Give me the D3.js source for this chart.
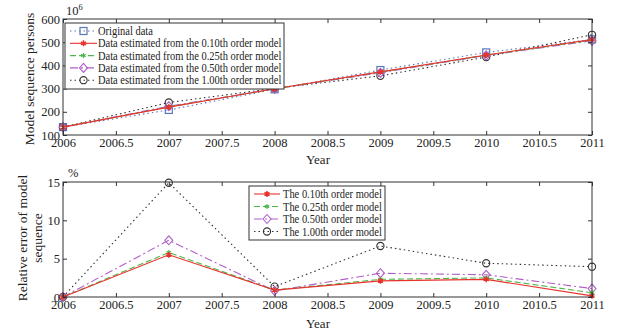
<!DOCTYPE html>
<html>
<head>
<meta charset="utf-8">
<script src="https://cdn.jsdelivr.net/npm/d3@7"></script>
<style>
  body { margin: 0; background: #fff; }
  svg text { font-family: "Liberation Serif", "DejaVu Serif", serif; fill: #222; }
  .tick text { font-size: 12.5px; }
  .tick line { stroke: #333; }
</style>
</head>
<body>
<div id="chart"></div>
<script>
// data
var years = [2006, 2007, 2008, 2009, 2010, 2011];
var original = [134, 208, 297, 380, 456, 512];
var est010 = [134, 220, 299, 372, 445, 511];
var est025 = [134, 221, 299, 371, 444, 509];
var est050 = [134, 224, 299, 368, 443, 506];
var est100 = [134, 240, 301, 355, 436, 532];

var err010 = [0, 5.5, 0.9, 2.1, 2.3, 0.15];
var err025 = [0, 5.8, 0.9, 2.3, 2.5, 0.55];
var err050 = [0, 7.4, 0.8, 3.1, 2.9, 1.1];
var err100 = [0, 14.9, 1.35, 6.65, 4.4, 3.95];

var xTicks = [2006, 2006.5, 2007, 2007.5, 2008, 2008.5, 2009, 2009.5, 2010, 2010.5, 2011];
var yTicksTop = [100, 200, 300, 400, 500, 600];
var yTicksBottom = [0, 5, 10, 15];

var topNames = ["Original data",
  "Data estimated from the 0.10th order model",
  "Data estimated from the 0.25th order model",
  "Data estimated from the 0.50th order model",
  "Data estimated from the 1.00th order model"];
var bottomNames = ["The 0.10th order model", "The 0.25th order model",
  "The 0.50th order model", "The 1.00th order model"];

var svgWidth = 617, svgHeight = 330;
var left = 63, right = 592;

var svg = d3.select("#chart").append("svg")
  .attr("width", svgWidth).attr("height", svgHeight);

var x = d3.scaleLinear().domain([2006, 2011]).range([left, right]);

// series styles
var styles = {
  orig: { color: "#5a78b4", dash: "1.5,3", marker: "square" },
  m010: { color: "#e8322c", dash: null, marker: "star" },
  m025: { color: "#4cb84a", dash: "6,3", marker: "cross" },
  m050: { color: "#b060c8", dash: "8,3,2,3", marker: "diamond" },
  m100: { color: "#333", dash: "1.5,3", marker: "circle" }
};

function drawMarker(g, type, cx, cy, color) {
  if (type === "square") {
    g.append("rect").attr("x", cx - 3.5).attr("y", cy - 3.5)
      .attr("width", 7).attr("height", 7)
      .attr("fill", "none").attr("stroke", color).attr("stroke-width", 1.2);
  } else if (type === "circle") {
    g.append("circle").attr("cx", cx).attr("cy", cy).attr("r", 3.6)
      .attr("fill", "none").attr("stroke", color).attr("stroke-width", 1.1);
  } else if (type === "diamond") {
    g.append("path").attr("d", `M${cx},${cy - 4.5}L${cx + 4},${cy}L${cx},${cy + 4.5}L${cx - 4},${cy}Z`)
      .attr("fill", "none").attr("stroke", color).attr("stroke-width", 1.1);
  } else if (type === "star") {
    g.append("path").attr("d", d3.symbol(d3.symbolAsterisk, 24)())
      .attr("transform", `translate(${cx},${cy})`)
      .attr("fill", "none").attr("stroke", color).attr("stroke-width", 1.5);
  } else if (type === "cross") {
    g.append("path").attr("d", d3.symbol(d3.symbolAsterisk, 18)())
      .attr("transform", `translate(${cx},${cy})`)
      .attr("fill", "none").attr("stroke", color).attr("stroke-width", 1.1);
  }
}

function drawSeries(g, xs, ys, y, st) {
  var line = d3.line().x((d, i) => x(xs[i])).y(d => y(d));
  g.append("path").datum(ys)
    .attr("d", line)
    .attr("fill", "none")
    .attr("stroke", st.color)
    .attr("stroke-width", 1.1)
    .attr("stroke-dasharray", st.dash);
  ys.forEach(function(v, i) { drawMarker(g, st.marker, x(xs[i]), y(v), st.color); });
}

function drawFrame(top, bottom, y, yTicks) {
  var g = svg.append("g");
  g.append("g").attr("transform", `translate(0,${bottom})`)
    .call(d3.axisBottom(x).tickValues(xTicks).tickSizeInner(-4).tickSizeOuter(0).tickPadding(3).tickFormat(d3.format("")));
  g.append("g").attr("transform", `translate(0,${top})`)
    .call(d3.axisTop(x).tickValues(xTicks).tickSizeInner(-4).tickSizeOuter(0).tickFormat(""));
  g.append("g").attr("transform", `translate(${left},0)`)
    .call(d3.axisLeft(y).tickValues(yTicks).tickSizeInner(-4).tickSizeOuter(0).tickPadding(3));
  g.append("g").attr("transform", `translate(${right},0)`)
    .call(d3.axisRight(y).tickValues(yTicks).tickSizeInner(-4).tickSizeOuter(0).tickFormat(""));
  g.append("rect").attr("x", left).attr("y", top)
    .attr("width", right - left).attr("height", bottom - top)
    .attr("fill", "none").attr("stroke", "#333").attr("stroke-width", 1);
  g.selectAll(".domain").remove();
  return g;
}

// condensed legend text, like the narrow serif in the original
function legendText(g, tx, ty, name) {
  var t = g.append("text").attr("x", tx).attr("y", ty).attr("font-size", 11.5).text(name);
  var len = t.node().getComputedTextLength();
  t.attr("textLength", len * 0.91).attr("lengthAdjust", "spacingAndGlyphs");
}

// ---- top chart
var topY = 19, topB = 135;
var y1 = d3.scaleLinear().domain([100, 600]).range([topB, topY]);
var g1 = svg.append("g");
drawSeries(g1, years, original, y1, styles.orig);
drawSeries(g1, years, est100, y1, styles.m100);
drawSeries(g1, years, est050, y1, styles.m050);
drawSeries(g1, years, est025, y1, styles.m025);
drawSeries(g1, years, est010, y1, styles.m010);
drawFrame(topY, topB, y1, yTicksTop);

svg.append("text").attr("x", 66).attr("y", 15).attr("font-size", 12.5)
  .html('10<tspan dy="-5" font-size="8.5">6</tspan>');
svg.append("text").attr("x", 318).attr("y", 164).attr("text-anchor", "middle")
  .attr("font-size", 13).text("Year");
svg.append("text").attr("transform", "translate(34,79) rotate(-90)")
  .attr("text-anchor", "middle").attr("font-size", 13.5)
  .text("Model sequence persons");

// top legend
var leg1 = svg.append("g");
leg1.append("rect").attr("x", 65).attr("y", 23).attr("width", 219).attr("height", 66)
  .attr("fill", "#fff").attr("stroke", "#333").attr("stroke-width", 1);
var topStyles = [styles.orig, styles.m010, styles.m025, styles.m050, styles.m100];
topNames.forEach(function(name, i) {
  var ly = 31 + i * 12.3;
  var st = topStyles[i];
  leg1.append("line").attr("x1", 70).attr("x2", 97).attr("y1", ly).attr("y2", ly)
    .attr("stroke", st.color).attr("stroke-width", 1.1).attr("stroke-dasharray", st.dash);
  drawMarker(leg1, st.marker, 83.5, ly, st.color);
  legendText(leg1, 98, ly + 4, name);
});

// ---- bottom chart
var botY = 182, botB = 297;
var y2 = d3.scaleLinear().domain([0, 15]).range([botB, botY]);
var g2 = svg.append("g");
drawSeries(g2, years, err100, y2, styles.m100);
drawSeries(g2, years, err050, y2, styles.m050);
drawSeries(g2, years, err025, y2, styles.m025);
drawSeries(g2, years, err010, y2, styles.m010);
drawFrame(botY, botB, y2, yTicksBottom);

svg.append("text").attr("x", 68).attr("y", 177).attr("font-size", 12.5).text("%");
svg.append("text").attr("x", 318).attr("y", 328).attr("text-anchor", "middle")
  .attr("font-size", 13).text("Year");
var yl2 = svg.append("text").attr("transform", "translate(27,238) rotate(-90)")
  .attr("text-anchor", "middle").attr("font-size", 13.5);
yl2.append("tspan").attr("x", 0).attr("dy", 0).text("Relative error of model");
yl2.append("tspan").attr("x", 0).attr("dy", 15).text("sequence");

// bottom legend
var leg2 = svg.append("g");
leg2.append("rect").attr("x", 249).attr("y", 186).attr("width", 136).attr("height", 54)
  .attr("fill", "#fff").attr("stroke", "#333").attr("stroke-width", 1);
var botStyles = [styles.m010, styles.m025, styles.m050, styles.m100];
bottomNames.forEach(function(name, i) {
  var ly = 194 + i * 12.5;
  var st = botStyles[i];
  leg2.append("line").attr("x1", 254).attr("x2", 280).attr("y1", ly).attr("y2", ly)
    .attr("stroke", st.color).attr("stroke-width", 1.1).attr("stroke-dasharray", st.dash);
  drawMarker(leg2, st.marker, 267, ly, st.color);
  legendText(leg2, 283, ly + 4, name);
});
</script>
</body>
</html>
